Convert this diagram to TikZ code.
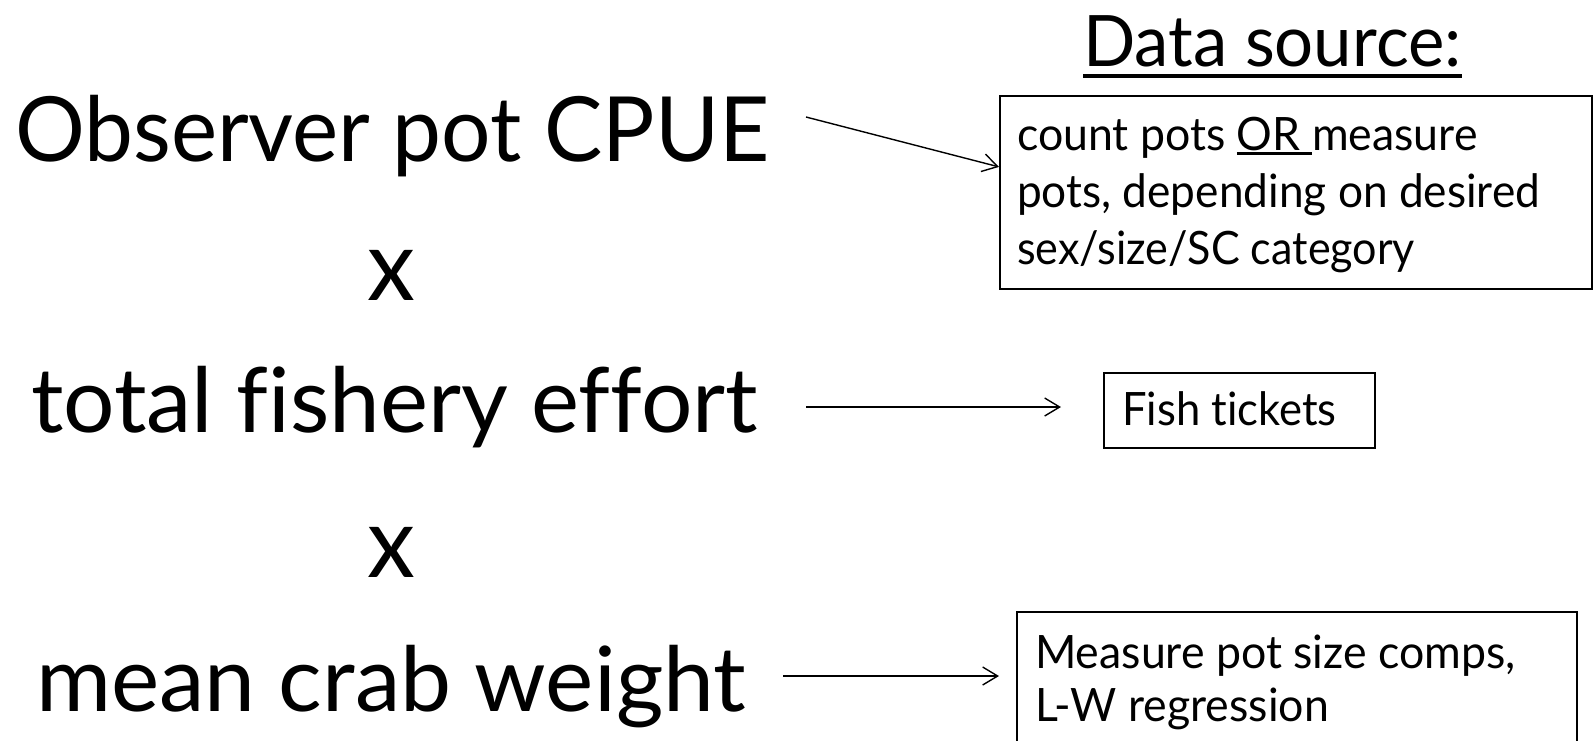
\documentclass[tikz,border=0pt]{standalone}
\usepackage{fontspec}
\setmainfont[FakeStretch=0.97,Ligatures=NoCommon]{Lato}
\usetikzlibrary{arrows.meta}
\newcommand\myul[3]{\setbox0\hbox{#1}\rlap{\raisebox{-#2}{\rule{\wd0}{#3}}}\box0}
\begin{document}
\begin{tikzpicture}[x=1pt,y=-1pt,
  big/.style={inner sep=0pt,anchor=base west,font=\fontsize{90}{100}\selectfont},
  times/.style={inner sep=0pt,anchor=base,font=\fontsize{99}{100}\selectfont},
  small/.style={inner sep=0pt,anchor=base west,font=\fontsize{46}{50}\selectfont},
  head/.style={inner sep=0pt,anchor=base west,font=\fontsize{71}{80}\selectfont},
  srcbox/.style={draw,line width=1.8pt,inner sep=0pt,anchor=north west},
  conn/.style={line width=1.4pt,-{Straight Barb[length=15pt,width=18pt,line width=1.4pt]}}]
\useasboundingbox (0,0) rectangle (1594,740);
% left column
\node[big] (cpue) at (15,161) {Observer pot CPUE};
\node[times] (x1) at (391,300) {x};
\node[big] (effort) at (31,432) {\scalebox{1.04}[1]{total fishery effort}};
\node[times] (x2) at (391,577) {x};
\node[big] (weight) at (36,711) {\scalebox{1.045}[1]{mean crab weight}};
% heading
\node[head] (ds) at (1083,66) {\myul{Data source:}{12pt}{4.5pt}};
% boxes
\node[srcbox,minimum width=592pt,minimum height=193pt] (box1) at (999,95) {};
\node[small] (b1a) at (1017,150) {count pots \myul{OR }{5pt}{3pt}measure};
\node[small] (b1b) at (1017,207) {\scalebox{0.99}[1]{pots, depending on desired}};
\node[small] (b1c) at (1017,264) {\scalebox{0.965}[1]{sex/size/SC category}};
\node[srcbox,minimum width=271pt,minimum height=75pt] (box2) at (1103,372) {};
\node[small] (b2a) at (1122,425) {\scalebox{0.976}[1]{Fish tickets}};
\node[srcbox,minimum width=560pt,minimum height=160pt] (box3) at (1016,611) {};
\node[small] (b3a) at (1035,668) {Measure pot size comps,};
\node[small] (b3b) at (1035,721) {L-W regression};
% connectors
\coordinate (s1) at (806,117);
\coordinate (s2) at (806,407);
\coordinate (e2) at (1061,407);
\coordinate (s3) at (783,676);
\coordinate (e3) at (999,676);
\draw[conn] (s1) -- ([yshift=25.5pt]box1.west);
\draw[conn] (s2) -- (e2);
\draw[conn] (s3) -- (e3);
\end{tikzpicture}
\end{document}
